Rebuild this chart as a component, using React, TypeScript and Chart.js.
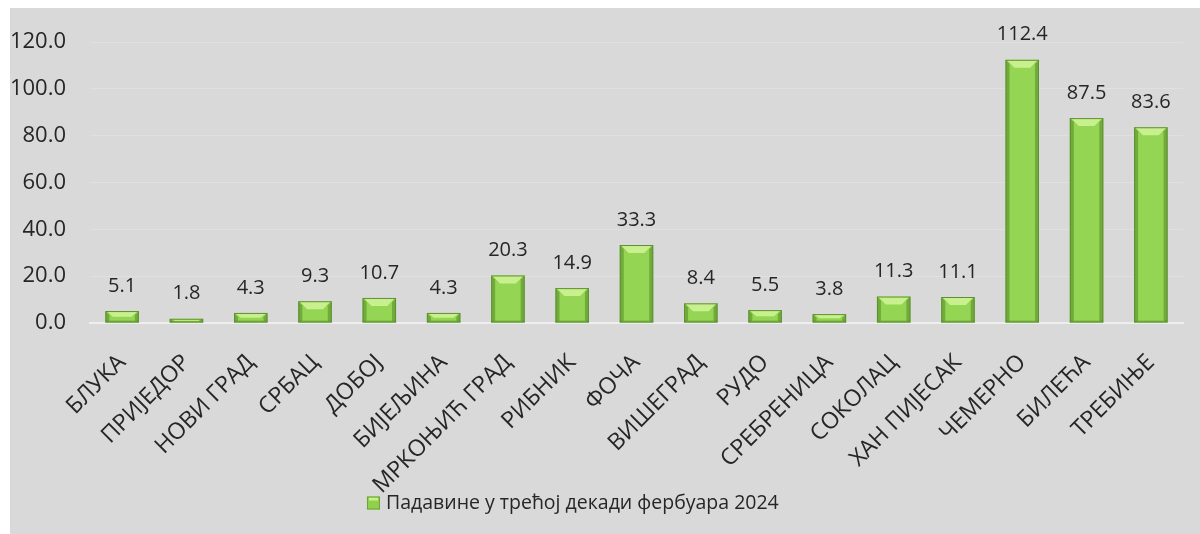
import React, { useEffect, useRef } from "react";
import { Chart, registerables } from "chart.js";

Chart.register(...registerables);

const categories = [
  "БЛУКА",
  "ПРИЈЕДОР",
  "НОВИ ГРАД",
  "СРБАЦ",
  "ДОБОЈ",
  "БИЈЕЉИНА",
  "МРКОЊИЋ ГРАД",
  "РИБНИК",
  "ФОЧА",
  "ВИШЕГРАД",
  "РУДО",
  "СРЕБРЕНИЦА",
  "СОКОЛАЦ",
  "ХАН ПИЈЕСАК",
  "ЧЕМЕРНО",
  "БИЛЕЋА",
  "ТРЕБИЊЕ",
];

const precipitation = [5.1, 1.8, 4.3, 9.3, 10.7, 4.3, 20.3, 14.9, 33.3, 8.4, 5.5, 3.8, 11.3, 11.1, 112.4, 87.5, 83.6];

const seriesLabel = "Падавине у трећој декади фербуара 2024";

const yTicks = [0, 20, 40, 60, 80, 100, 120];

const FONT = "'Open Sans', 'Noto Sans', sans-serif";

const bevelPlugin = {
  id: "bevelBars",
  afterDatasetsDraw(chart: any) {
    const ctx = chart.ctx;
    const meta = chart.getDatasetMeta(0);
    ctx.save();
    meta.data.forEach((bar: any, i: number) => {
      const p = bar.getProps(["x", "y", "base", "width"], true);
      const left = p.x - p.width / 2;
      const right = p.x + p.width / 2;
      const top = p.y;
      const bottom = p.base;
      const h = bottom - top;
      const b = Math.min(8, h / 2);
      const s = Math.min(4, p.width / 4);
      ctx.fillStyle = "rgba(70,120,30,0.45)";
      ctx.beginPath();
      ctx.moveTo(left, top);
      ctx.lineTo(left + s, top + Math.min(b, s));
      ctx.lineTo(left + s, bottom - Math.min(b, s) / 2);
      ctx.lineTo(left, bottom);
      ctx.closePath();
      ctx.fill();
      ctx.beginPath();
      ctx.moveTo(right, top);
      ctx.lineTo(right - s, top + Math.min(b, s));
      ctx.lineTo(right - s, bottom - Math.min(b, s) / 2);
      ctx.lineTo(right, bottom);
      ctx.closePath();
      ctx.fill();
      ctx.fillStyle = "rgba(70,120,30,0.35)";
      ctx.fillRect(left, bottom - Math.min(2, h / 3), p.width, Math.min(2, h / 3));
      ctx.fillStyle = "#c9f08e";
      ctx.beginPath();
      ctx.moveTo(left + 1, top);
      ctx.lineTo(right - 1, top);
      ctx.lineTo(right - s - b * 0.6, top + b);
      ctx.lineTo(left + s + b * 0.6, top + b);
      ctx.closePath();
      ctx.fill();
      ctx.strokeStyle = "#5f8f32";
      ctx.lineWidth = 1;
      ctx.strokeRect(left + 0.5, top + 0.5, p.width - 1, Math.max(h - 1, 0.5));
      ctx.fillStyle = "#262626";
      ctx.font = `20px ${FONT}`;
      ctx.textAlign = "center";
      ctx.textBaseline = "middle";
      ctx.fillText(precipitation[i].toFixed(1), p.x, top - 25);
    });
    ctx.restore();
  },
};

const legendPlugin = {
  id: "customLegend",
  afterDraw(chart: any) {
    const ctx = chart.ctx;
    ctx.save();
    ctx.font = `19.5px ${FONT}`;
    const tw = ctx.measureText(seriesLabel).width;
    const box = 13;
    const gap = 6;
    const total = box + gap + tw;
    const cx = chart.width * 0.473;
    const cy = chart.height - 31;
    const x0 = cx - total / 2;
    ctx.fillStyle = "#8fd14f";
    ctx.fillRect(x0, cy - box / 2, box, box);
    ctx.fillStyle = "#c9f08e";
    ctx.fillRect(x0 + 2, cy - box / 2 + 1, box - 4, 3);
    ctx.strokeStyle = "#6ea437";
    ctx.lineWidth = 1;
    ctx.strokeRect(x0 + 0.5, cy - box / 2 + 0.5, box - 1, box - 1);
    ctx.fillStyle = "#262626";
    ctx.textAlign = "left";
    ctx.textBaseline = "middle";
    ctx.fillText(seriesLabel, x0 + box + gap, cy);
    ctx.restore();
  },
};

export default function App() {
  const ref = useRef<HTMLCanvasElement | null>(null);
  useEffect(() => {
    if (!ref.current) return;
    const chart = new Chart(ref.current, {
      type: "bar",
      data: {
        labels: categories,
        datasets: [
          {
            label: seriesLabel,
            data: precipitation,
            backgroundColor: "#94d653",
            borderWidth: 0,
            categoryPercentage: 1,
            barPercentage: 0.52,
          },
        ],
      },
      options: {
        responsive: false,
        animation: false,
        layout: { padding: { left: 0, right: 17, top: 34, bottom: 21 } },
        plugins: {
          legend: { display: false },
          tooltip: { enabled: false },
        },
        scales: {
          x: {
            grid: { display: false, drawTicks: false },
            border: { display: true, color: "#eeeeee", width: 2 },
            ticks: {
              color: "#262626",
              font: { family: FONT, size: 23 },
              minRotation: 45,
              maxRotation: 45,
              padding: 26,
              autoSkip: false,
            },
            afterFit: (s: any) => {
              s.paddingLeft = 0;
              s.paddingRight = 0;
              s.height = 190;
            },
          },
          y: {
            min: 0,
            max: 120,
            afterBuildTicks: (scale: any) => {
              scale.ticks = yTicks.map((v) => ({ value: v }));
            },
            grid: { color: "rgba(255,255,255,0.18)", drawTicks: false },
            border: { display: false },
            ticks: {
              color: "#262626",
              font: { family: FONT, size: 22 },
              padding: 24,
              callback: (v: any) => Number(v).toFixed(1),
            },
            afterFit: (s: any) => {
              s.width = 80;
              s.paddingTop = 0;
              s.paddingBottom = 0;
            },
          },
        },
      },
      plugins: [bevelPlugin, legendPlugin],
    });
    return () => chart.destroy();
  }, []);
  return (
    <div
      style={{
        position: "fixed",
        left: 10,
        top: 8,
        width: 1190,
        height: 526,
        background: "#d9d9d9",
      }}
    >
      <canvas ref={ref} width={1190} height={526} />
    </div>
  );
}
